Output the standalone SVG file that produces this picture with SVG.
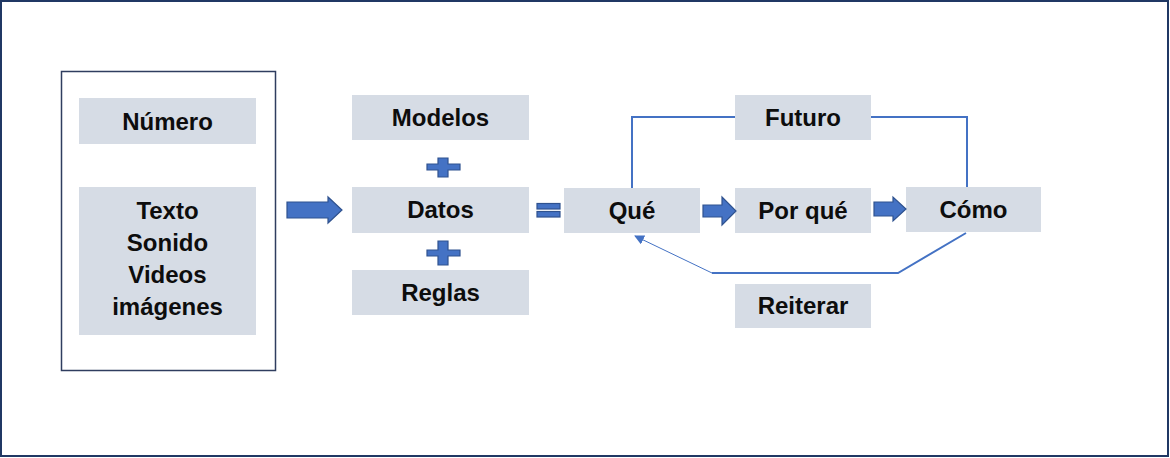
<svg xmlns="http://www.w3.org/2000/svg" width="1170" height="458" viewBox="0 0 1170 458">
<style>
.box{fill:#d6dce5}
.t{font-family:"Liberation Sans",Arial,sans-serif;font-weight:bold;font-size:24px;fill:#0d0d0d;text-anchor:middle}
.sym{fill:#4472c4;stroke:#2f528f;stroke-width:1.2}
.ln{fill:none;stroke:#4472c4;stroke-width:2}
.thin{fill:none;stroke:#4472c4;stroke-width:1}
</style>
<defs>
<marker id="ah" markerWidth="10" markerHeight="10" refX="9" refY="5" orient="auto" markerUnits="userSpaceOnUse">
<path d="M0,0 L10,5 L0,10 z" fill="#4472c4"/>
</marker>
</defs>
<rect x="1" y="1" width="1167" height="455" fill="#ffffff" stroke="#203864" stroke-width="2"/>
<g id="container">
<rect x="61.5" y="71.5" width="214" height="299" fill="#ffffff" stroke="#2f3d5f" stroke-width="1.5"/>
</g>
<g id="numero"><rect class="box" x="79" y="98" width="177" height="46"/><text class="t" x="167.5" y="130">Número</text></g>
<g id="texto"><rect class="box" x="79" y="187" width="177" height="148"/>
<text class="t" x="167.5" y="219">Texto</text>
<text class="t" x="167.5" y="251">Sonido</text>
<text class="t" x="167.5" y="283">Videos</text>
<text class="t" x="167.5" y="315">imágenes</text></g>
<g id="modelos"><rect class="box" x="352" y="95" width="177" height="45"/><text class="t" x="440.5" y="126">Modelos</text></g>
<g id="datos"><rect class="box" x="352" y="187" width="177" height="46"/><text class="t" x="440.5" y="218">Datos</text></g>
<g id="reglas"><rect class="box" x="352" y="270" width="177" height="45"/><text class="t" x="440.5" y="301">Reglas</text></g>
<g id="que"><rect class="box" x="564" y="188" width="136" height="45"/><text class="t" x="632" y="219">Qué</text></g>
<g id="porque"><rect class="box" x="735" y="188" width="136" height="45"/><text class="t" x="803" y="219">Por qué</text></g>
<g id="como"><rect class="box" x="906" y="187" width="135" height="45"/><text class="t" x="973.5" y="218">Cómo</text></g>
<g id="futuro"><rect class="box" x="735" y="95" width="136" height="45"/><text class="t" x="803" y="126">Futuro</text></g>
<g id="reiterar"><rect class="box" x="735" y="284" width="136" height="44"/><text class="t" x="803" y="314">Reiterar</text></g>
<g id="connectors">
<path class="sym" d="M287,202 L328,202 L328,197 L342,210 L328,223 L328,218 L287,218 z"/>
<path class="sym" d="M427,164 L438,164 L438,158 L448,158 L448,164 L460,164 L460,170 L448,170 L448,177 L438,177 L438,170 L427,170 z"/>
<path class="sym" d="M427,250 L438,250 L438,241 L448,241 L448,250 L460,250 L460,256 L448,256 L448,265 L438,265 L438,256 L427,256 z"/>
<rect class="sym" x="537" y="203.5" width="23" height="5.5"/>
<rect class="sym" x="537" y="211.5" width="23" height="5.5"/>
<path class="sym" d="M703,205 L722,205 L722,197 L736,211 L722,225 L722,217 L703,217 z"/>
<path class="sym" d="M874,202 L893,202 L893,197 L906,209 L893,221 L893,216 L874,216 z"/>
<path class="ln" d="M632,188 L632,117 L735,117"/>
<path class="ln" d="M871,117 L967,117 L967,187"/>
<path class="ln" d="M966,233 L898,273 L712,273"/>
<path class="thin" d="M712,273 L635,236" marker-end="url(#ah)"/>
</g>
</svg>
